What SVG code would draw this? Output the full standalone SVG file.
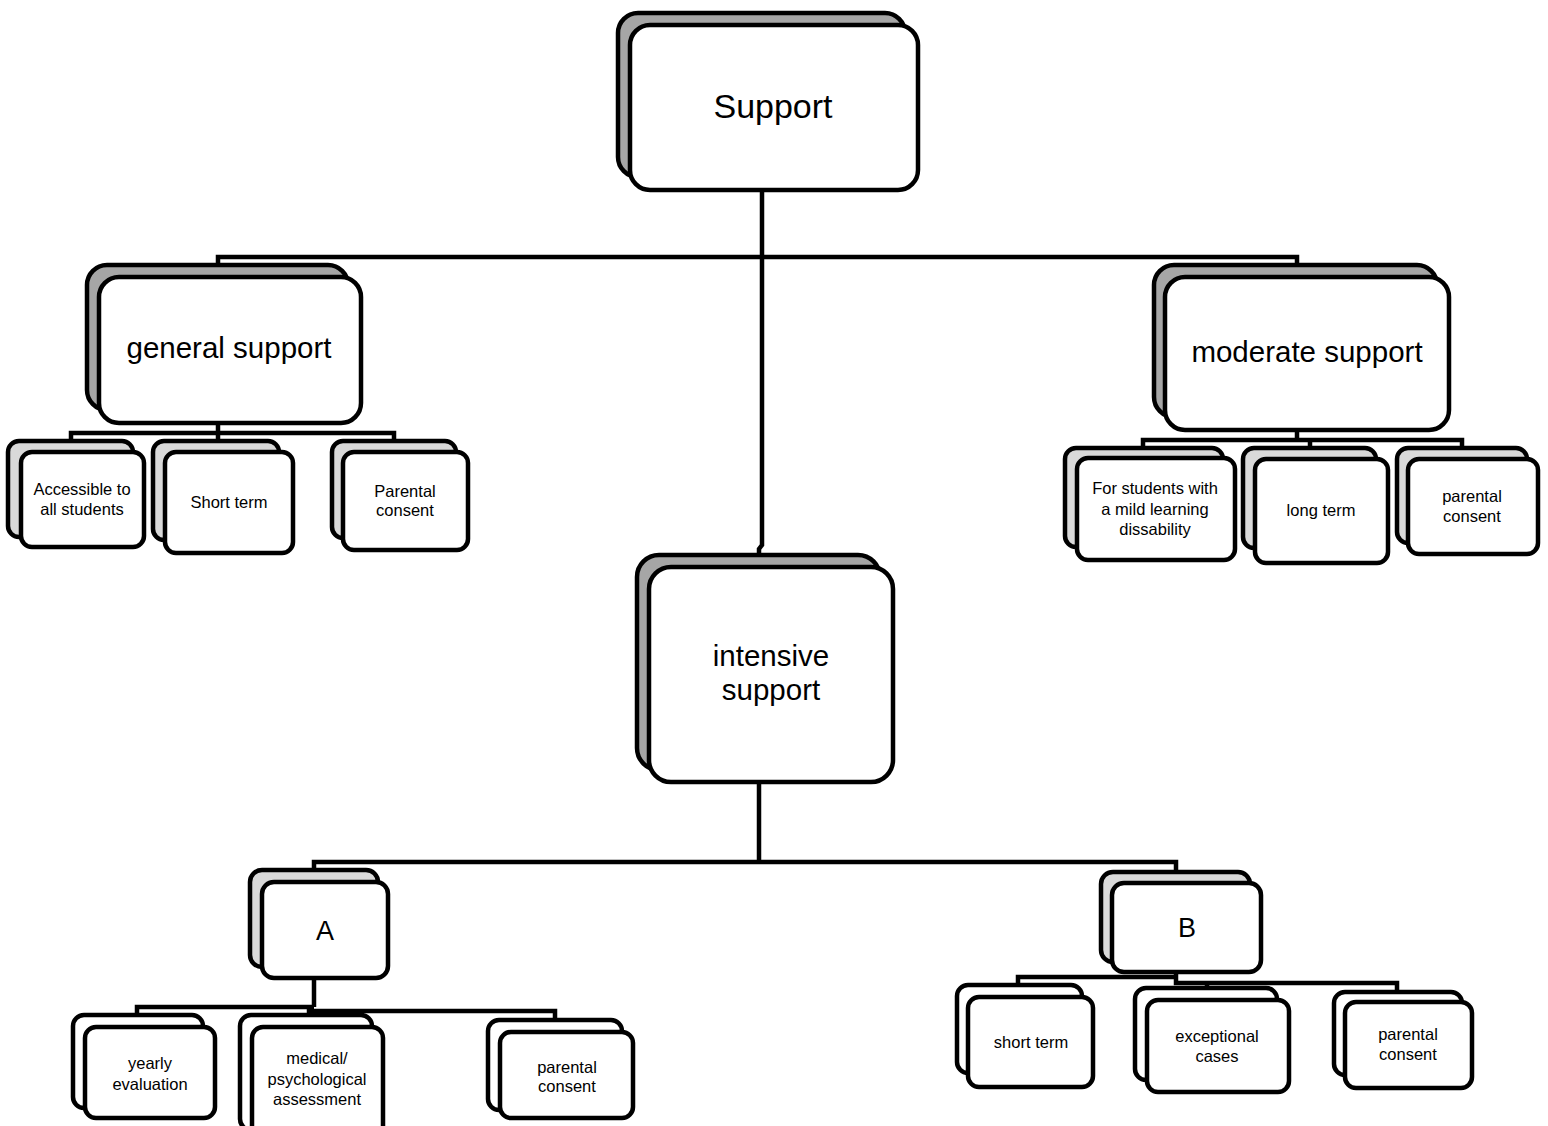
<svg xmlns="http://www.w3.org/2000/svg" width="1548" height="1126" viewBox="0 0 1548 1126">
<style>
  .bk1 { fill: #a6a6a6; stroke: #000; stroke-width: 4.5; }
  .bk2 { fill: #d9d9d9; stroke: #000; stroke-width: 4.5; }
  .bk3 { fill: #ffffff; stroke: #000; stroke-width: 4.5; }
  .fr { fill: #ffffff; stroke: #000; stroke-width: 4.5; }
  .conn { fill: none; stroke: #000; stroke-width: 4.5; }
  text { font-family: "Liberation Sans", Arial, sans-serif; fill: #000; text-anchor: middle; }
  .t1 { font-size: 34px; }
  .t2 { font-size: 29.5px; }
  .t3 { font-size: 27px; }
  .t4 { font-size: 16.5px; }
</style>
<rect width="1548" height="1126" fill="#ffffff"/>
<g id="connectors">
  <path class="conn" d="M762,190 V545 L759,549 V556"/>
  <path class="conn" d="M218,266 V257 H1297 V266"/>
  <path class="conn" d="M218,423 V433"/>
  <path class="conn" d="M71,442 V433 H394 V442"/>
  <path class="conn" d="M218,433 V442"/>
  <path class="conn" d="M1297,430 V440"/>
  <path class="conn" d="M1143,449 V440 H1462 V449"/>
  <path class="conn" d="M1310,440 V449"/>
  <path class="conn" d="M759,782 V862"/>
  <path class="conn" d="M314,871 V862 H1176 V873"/>
  <path class="conn" d="M314,978 V1007"/>
  <path class="conn" d="M137,1016 V1007 H314"/>
  <path class="conn" d="M309,1016 V1007"/>
  <path class="conn" d="M311,1011 H555 V1021"/>
  <path class="conn" d="M1018,986 V977 H1176"/>
  <path class="conn" d="M1176,972 V983 H1397 V993"/>
  <path class="conn" d="M1207,983 V989"/>
</g>
<g id="node-support">
  <rect class="bk1" x="618" y="13" width="287" height="164" rx="20"/>
  <rect class="fr" x="630" y="25" width="288" height="165" rx="20"/>
  <text class="t1" x="773" y="118">Support</text>
</g>
<g id="node-general">
  <rect class="bk1" x="87" y="265" width="261" height="145" rx="20"/>
  <rect class="fr" x="99" y="277" width="262" height="146" rx="20"/>
  <text class="t2" x="229" y="358">general support</text>
</g>
<g id="node-moderate">
  <rect class="bk1" x="1154" y="265" width="283" height="152" rx="20"/>
  <rect class="fr" x="1165" y="277" width="284" height="153" rx="20"/>
  <text class="t2" x="1307" y="362">moderate support</text>
</g>
<g id="node-intensive">
  <rect class="bk1" x="637" y="555" width="243" height="215" rx="22"/>
  <rect class="fr" x="649" y="567" width="244" height="215" rx="22"/>
  <text class="t2" x="771" y="666">intensive</text>
  <text class="t2" x="771" y="700">support</text>
</g>
<g id="node-a">
  <rect class="bk2" x="250" y="870" width="128" height="97" rx="12"/>
  <rect class="fr" x="262" y="882" width="126" height="96" rx="12"/>
  <text class="t3" x="325" y="940">A</text>
</g>
<g id="node-b">
  <rect class="bk2" x="1101" y="872" width="149" height="90" rx="12"/>
  <rect class="fr" x="1112" y="883" width="149" height="89" rx="12"/>
  <text class="t3" x="1187" y="937">B</text>
</g>
<g id="node-accessible">
  <rect class="bk2" x="8" y="441" width="125" height="96" rx="11"/>
  <rect class="fr" x="21" y="452" width="123" height="95" rx="11"/>
  <text class="t4" x="82" y="495">Accessible to</text>
  <text class="t4" x="82" y="515">all students</text>
</g>
<g id="node-shortterm-g">
  <rect class="bk2" x="153" y="441" width="126" height="99" rx="11"/>
  <rect class="fr" x="165" y="452" width="128" height="101" rx="11"/>
  <text class="t4" x="229" y="508">Short term</text>
</g>
<g id="node-parental-g">
  <rect class="bk2" x="332" y="441" width="124" height="97" rx="11"/>
  <rect class="fr" x="343" y="452" width="125" height="98" rx="11"/>
  <text class="t4" x="405" y="497">Parental</text>
  <text class="t4" x="405" y="516">consent</text>
</g>
<g id="node-mild">
  <rect class="bk2" x="1065" y="448" width="158" height="99" rx="11"/>
  <rect class="fr" x="1077" y="458" width="158" height="102" rx="11"/>
  <text class="t4" x="1155" y="494">For students with</text>
  <text class="t4" x="1155" y="515">a mild learning</text>
  <text class="t4" x="1155" y="535">dissability</text>
</g>
<g id="node-longterm">
  <rect class="bk2" x="1243" y="448" width="133" height="100" rx="11"/>
  <rect class="fr" x="1255" y="459" width="133" height="104" rx="11"/>
  <text class="t4" x="1321" y="516">long term</text>
</g>
<g id="node-parental-m">
  <rect class="bk2" x="1397" y="448" width="130" height="95" rx="11"/>
  <rect class="fr" x="1408" y="459" width="130" height="95" rx="11"/>
  <text class="t4" x="1472" y="502">parental</text>
  <text class="t4" x="1472" y="522">consent</text>
</g>
<g id="node-yearly">
  <rect class="bk3" x="73" y="1015" width="130" height="93" rx="11"/>
  <rect class="fr" x="85" y="1027" width="130" height="91" rx="11"/>
  <text class="t4" x="150" y="1069">yearly</text>
  <text class="t4" x="150" y="1090">evaluation</text>
</g>
<g id="node-medical">
  <rect class="bk3" x="240" y="1015" width="132" height="115" rx="11"/>
  <rect class="fr" x="252" y="1027" width="131" height="115" rx="11"/>
  <text class="t4" x="317" y="1064">medical/</text>
  <text class="t4" x="317" y="1085">psychological</text>
  <text class="t4" x="317" y="1105">assessment</text>
</g>
<g id="node-parental-a">
  <rect class="bk3" x="488" y="1020" width="134" height="90" rx="11"/>
  <rect class="fr" x="500" y="1032" width="133" height="86" rx="11"/>
  <text class="t4" x="567" y="1073">parental</text>
  <text class="t4" x="567" y="1092">consent</text>
</g>
<g id="node-shortterm-b">
  <rect class="bk3" x="957" y="985" width="125" height="88" rx="11"/>
  <rect class="fr" x="968" y="997" width="125" height="90" rx="11"/>
  <text class="t4" x="1031" y="1048">short term</text>
</g>
<g id="node-exceptional">
  <rect class="bk3" x="1135" y="988" width="142" height="92" rx="11"/>
  <rect class="fr" x="1147" y="1000" width="142" height="92" rx="11"/>
  <text class="t4" x="1217" y="1042">exceptional</text>
  <text class="t4" x="1217" y="1062">cases</text>
</g>
<g id="node-parental-b">
  <rect class="bk3" x="1334" y="992" width="128" height="83" rx="11"/>
  <rect class="fr" x="1345" y="1002" width="127" height="86" rx="11"/>
  <text class="t4" x="1408" y="1040">parental</text>
  <text class="t4" x="1408" y="1060">consent</text>
</g>
</svg>
